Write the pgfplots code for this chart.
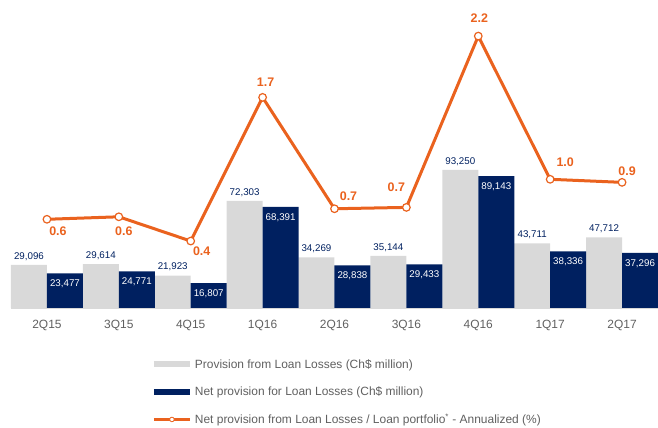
\documentclass[border=0pt]{standalone}
\usepackage{fontspec}
\setmainfont{Liberation Sans}
\usepackage{pgfplots}
\pgfplotsset{compat=1.18}
\usepackage{pgfplotstable}
\definecolor{pgray}{RGB}{217,217,217}
\definecolor{pnavy}{RGB}{0,32,96}
\definecolor{porange}{RGB}{234,98,30}
\definecolor{ptext}{RGB}{96,96,96}

\pgfplotstableread{
x gross net
0 29096 23477
1 29614 24771
2 21923 16807
3 72303 68391
4 34269 28838
5 35144 29433
6 93250 89143
7 43711 38336
8 47712 37296
}\bars

\pgfplotstableread{
x y lab dx dy
0 0.592 0.6 11 -12
1 0.614 0.6 5 -14
2 0.400 0.4 11 -10
3 1.668 1.7 3 15
4 0.685 0.7 14 13
5 0.697 0.7 -10 20
6 2.209 2.2 1 18
7 0.945 1.0 15 17
8 0.918 0.9 5 11
}\ratio

\begin{document}
\begin{tikzpicture}
\useasboundingbox (0,0) rectangle (658bp,428bp);
\begin{axis}[
  at={(11bp,120bp)}, anchor=south west,
  scale only axis, width=647bp, height=288bp,
  xmin=-0.5, xmax=8.5, ymin=0, ymax=194600,
  ybar, bar width=36bp,
  axis y line=none, axis x line*=bottom,
  x axis line style={draw=pgray, line width=0.6bp},
  xtick={0,...,8},
  xticklabels={2Q15,3Q15,4Q15,1Q16,2Q16,3Q16,4Q16,1Q17,2Q17},
  major tick length=0pt,
  xticklabel style={font=\fontsize{12}{14}\selectfont, text=ptext, yshift=-9bp},
  /pgf/number format/.cd, fixed, precision=0, 1000 sep={,}, assume math mode=true,
  /pgfplots/.cd,
  clip=false,
]
\addplot[fill=pgray, draw=none, bar shift=-18bp,
  nodes near coords,
  every node near coord/.append style={font=\fontsize{9.8}{11}\selectfont, text=pnavy, anchor=south, yshift=1bp}]
  table[x=x, y=gross]{\bars};
\addplot[fill=pnavy, draw=none, bar shift=18bp,
  nodes near coords,
  every node near coord/.append style={font=\fontsize{9.8}{11}\selectfont, text=white, anchor=north, yshift=-3bp}]
  table[x=x, y=net]{\bars};
\end{axis}

\begin{axis}[
  at={(11bp,120bp)}, anchor=south west,
  scale only axis, width=647bp, height=288bp,
  xmin=-0.5, xmax=8.5, ymin=-0.191, ymax=2.351,
  axis lines=none, ticks=none,
  clip=false,
  legend style={at={(0.216,-0.170)}, anchor=north west, draw=none, fill=none,
    font=\fontsize{12}{14}\selectfont, text=ptext, row sep=13bp,
    inner sep=0pt},
  legend cell align=left,
]
\addlegendimage{legend image code/.code={\draw[pgray, line width=6bp] (0bp,0bp) -- (36bp,0bp);}}
\addlegendimage{legend image code/.code={\draw[pnavy, line width=6bp] (0bp,0bp) -- (36bp,0bp);}}
\addplot[porange, line width=3bp,
  mark=*, mark size=3.8bp, mark options={fill=white, draw=porange, line width=1.2bp},
  nodes near coords, point meta=explicit symbolic,
  visualization depends on={\thisrow{dx}\as\dx},
  visualization depends on={\thisrow{dy}\as\dy},
  every node near coord/.append style={anchor=center, xshift=\dx bp, yshift=\dy bp,
    font=\bfseries\fontsize{12.5}{14}\selectfont, text=porange},
  legend image code/.code={\draw[porange, line width=2.5bp] (0bp,0bp) -- (36bp,0bp);
    \draw[porange, fill=white, line width=0.8bp] (18bp,0bp) circle (2.3bp);}]
  table[x=x, y=y, meta=lab]{\ratio};
\legend{Provision from Loan Losses (Ch\$ million),
  Net provision for Loan Losses (Ch\$ million),
  Net provision from Loan Losses / Loan portfolio\textsuperscript{*} - Annualized (\%)}
\end{axis}
\end{tikzpicture}
\end{document}
